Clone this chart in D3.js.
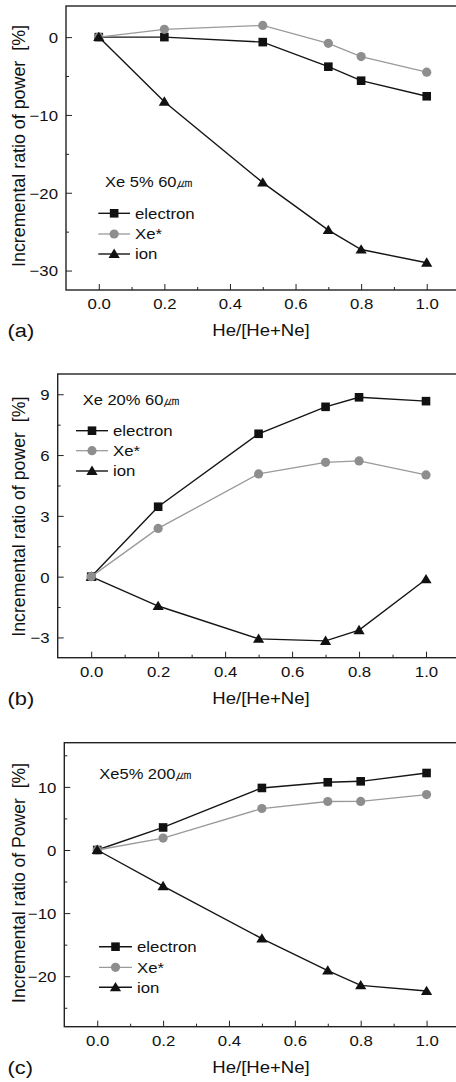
<!DOCTYPE html>
<html>
<head>
<meta charset="utf-8">
<script src="https://cdn.jsdelivr.net/npm/d3@7"></script>
<style>
  body { margin: 0; background: #fff; }
  svg { display: block; }
  text { font-family: "Liberation Sans", Arial, Helvetica, sans-serif; fill: #111; }
</style>
</head>
<body>
<svg id="chart" width="456" height="1082"></svg>
<script>
// Shared x values: helium fraction in the He/Ne buffer gas
const heFraction   = [0.0, 0.2, 0.5, 0.7, 0.8, 1.0];
const xTickValues  = [0.0, 0.2, 0.4, 0.6, 0.8, 1.0];
const xTickLabels  = ["0.0", "0.2", "0.4", "0.6", "0.8", "1.0"];
const xMinorTicks  = [0.1, 0.3, 0.5, 0.7, 0.9];
const seriesNames  = ["electron", "Xe*", "ion"];
const xAxisTitle   = "He/[He+Ne]";

// (a) Xe 5%, 60 um gap
const titleA    = "Xe 5% 60\u339B";
const electronA = [0, 0, -0.64, -3.8, -5.6, -7.6];
const xeStarA   = [0, 1.0, 1.5, -0.8, -2.5, -4.5];
const ionA      = [0, -8.3, -18.7, -24.8, -27.3, -29.0];
const yTicksA   = [-30, -20, -10, 0];
const yMinorA   = [-25, -15, -5];
const yTitleA   = "Incremental ratio of power  [%]";

// (b) Xe 20%, 60 um gap
const titleB    = "Xe 20% 60\u339B";
const electronB = [0, 3.45, 7.05, 8.38, 8.85, 8.66];
const xeStarB   = [0, 2.38, 5.07, 5.64, 5.71, 5.02];
const ionB      = [0, -1.45, -3.07, -3.17, -2.64, -0.13];
const yTicksB   = [-3, 0, 3, 6, 9];
const yMinorB   = [-1.5, 1.5, 4.5, 7.5];
const yTitleB   = "Incremental ratio of power  [%]";

// (c) Xe 5%, 200 um gap
const titleC    = "Xe5% 200\u339B";
const electronC = [0, 3.57, 9.83, 10.73, 10.88, 12.2];
const xeStarC   = [0, 1.89, 6.57, 7.68, 7.7, 8.78];
const ionC      = [0, -5.73, -14.04, -19.1, -21.45, -22.35];
const yTicksC   = [-20, -10, 0, 10];
const yMinorC   = [-25, -15, -5, 5, 15];
const yTitleC   = "Incremental ratio of Power  [%]";

// Panel layout (positions in px) and scale domains
const panels = [
  { tag: "(a)", title: titleA, yTitle: yTitleA, series: [electronA, xeStarA, ionA],
    yTicks: yTicksA, yMinor: yMinorA, yDomain: [-32.5, 4],
    left: 66, top: 6, bottom: 290,
    titleX: 105, titleY: 186.7,
    legX0: 98.3, legX1: 130, legTextX: 135, legY: [213.3, 234, 254],
    yTitleX: 25, yTitleY: 146, yTitleLen: 242,
    order: [0, 1, 2] },
  { tag: "(b)", title: titleB, yTitle: yTitleB, series: [electronB, xeStarB, ionB],
    yTicks: yTicksB, yMinor: yMinorB, yDomain: [-4, 10],
    left: 57.7, top: 374, bottom: 657.7,
    titleX: 82.7, titleY: 405,
    legX0: 76, legX1: 108, legTextX: 113, legY: [430.7, 450.7, 471],
    yTitleX: 25, yTitleY: 516.7, yTitleLen: 240,
    order: [2, 0, 1] },
  { tag: "(c)", title: titleC, yTitle: yTitleC, series: [electronC, xeStarC, ionC],
    yTicks: yTicksC, yMinor: yMinorC, yDomain: [-28, 17],
    left: 64.3, top: 742.7, bottom: 1026.7,
    titleX: 99.3, titleY: 779,
    legX0: 99, legX1: 132, legTextX: 137, legY: [946.7, 967.3, 987.3],
    yTitleX: 25, yTitleY: 883, yTitleLen: 240,
    order: [0, 1, 2] }
];

const xDomain = [-0.1, 1.1];
const rightEdge = 459.5;

const styles = [
  { line: "#151515", width: 1.4, fill: "#111", shape: "square" },
  { line: "#9a9a9a", width: 1.3, fill: "#8e8e8e", shape: "circle" },
  { line: "#151515", width: 1.4, fill: "#111", shape: "triangle" }
];

const svg = d3.select("#chart");

// horizontally widened text, anchored at (x, y)
function wideText(g, x, y, str, size, sx, anchor) {
  return g.append("text")
    .attr("transform", `translate(${x},${y}) scale(${sx},1)`)
    .attr("text-anchor", anchor || "start")
    .style("font-size", size + "px")
    .text(str);
}

function drawMarker(g, shape, cx, cy, fill) {
  if (shape === "square") {
    g.append("rect").attr("x", cx - 4.3).attr("y", cy - 4.3)
      .attr("width", 8.6).attr("height", 8.6).attr("fill", fill);
  } else if (shape === "circle") {
    g.append("circle").attr("cx", cx).attr("cy", cy).attr("r", 4.6).attr("fill", fill);
  } else {
    g.append("path")
      .attr("d", `M${cx},${cy - 5.4}L${cx + 5.6},${cy + 4}L${cx - 5.6},${cy + 4}Z`)
      .attr("fill", fill);
  }
}

panels.forEach(p => {
  const g = svg.append("g");
  const x = d3.scaleLinear().domain(xDomain).range([p.left, rightEdge]);
  const y = d3.scaleLinear().domain(p.yDomain).range([p.bottom, p.top]);

  // major & minor ticks on the bottom axis (pointing inward)
  const xAxisG = g.append("g").attr("transform", `translate(0,${p.bottom})`)
    .call(d3.axisBottom(x).tickValues(xTickValues)
      .tickFormat((d, i) => xTickLabels[i]).tickSizeInner(-6).tickSizeOuter(0));
  xAxisG.select(".domain").remove();
  xAxisG.selectAll("line").attr("stroke", "#222");
  xAxisG.selectAll("text")
    .attr("y", 19.3).attr("dy", null)
    .attr("transform", "scale(1.12,1)")
    .style("font-size", "15px").attr("fill", "#111");

  const xMinorG = g.append("g").attr("transform", `translate(0,${p.bottom})`)
    .call(d3.axisBottom(x).tickValues(xMinorTicks).tickFormat("").tickSizeInner(-3).tickSizeOuter(0));
  xMinorG.select(".domain").remove();
  xMinorG.selectAll("line").attr("stroke", "#222");

  // major & minor ticks on the left axis
  const yAxisG = g.append("g").attr("transform", `translate(${p.left},0)`)
    .call(d3.axisLeft(y).tickValues(p.yTicks).tickFormat(d3.format("d"))
      .tickSizeInner(-6).tickSizeOuter(0));
  yAxisG.select(".domain").remove();
  yAxisG.selectAll("line").attr("stroke", "#222");
  yAxisG.selectAll("text")
    .attr("x", -8 / 1.12).attr("dy", "0.36em")
    .attr("transform", "scale(1.12,1)")
    .style("font-size", "15px").attr("fill", "#111");

  const yMinorG = g.append("g").attr("transform", `translate(${p.left},0)`)
    .call(d3.axisLeft(y).tickValues(p.yMinor).tickFormat("").tickSizeInner(-3).tickSizeOuter(0));
  yMinorG.select(".domain").remove();
  yMinorG.selectAll("line").attr("stroke", "#222");

  // plot frame
  g.append("rect")
    .attr("x", p.left).attr("y", p.top)
    .attr("width", rightEdge - p.left).attr("height", p.bottom - p.top)
    .attr("fill", "none").attr("stroke", "#222").attr("stroke-width", 1.4);

  // data lines and markers
  const line = d3.line().x(d => x(d[0])).y(d => y(d[1]));
  p.order.forEach(si => {
    const st = styles[si];
    const pts = heFraction.map((f, i) => [f, p.series[si][i]]);
    g.append("path").attr("d", line(pts)).attr("fill", "none")
      .attr("stroke", st.line).attr("stroke-width", st.width);
    pts.forEach(d => drawMarker(g, st.shape, x(d[0]), y(d[1]), st.fill));
  });

  // panel title
  wideText(g, p.titleX, p.titleY, p.title, 15, 1.1);

  // legend
  seriesNames.forEach((name, i) => {
    const st = styles[i];
    const ly = p.legY[i];
    g.append("line").attr("x1", p.legX0).attr("x2", p.legX1)
      .attr("y1", ly).attr("y2", ly)
      .attr("stroke", st.line).attr("stroke-width", st.width);
    drawMarker(g, st.shape, (p.legX0 + p.legX1) / 2, ly, st.fill);
    wideText(g, p.legTextX, ly + 5.4, name, 15, 1.12);
  });

  // y-axis title
  g.append("text")
    .attr("transform", `translate(${p.yTitleX},${p.yTitleY}) rotate(-90)`)
    .attr("text-anchor", "middle")
    .attr("textLength", p.yTitleLen).attr("lengthAdjust", "spacingAndGlyphs")
    .style("font-size", "18px").style("white-space", "pre")
    .text(p.yTitle);

  // x-axis title and panel tag
  wideText(g, 261, p.bottom + 46, xAxisTitle, 16, 1.16, "middle");
  wideText(g, 7.5, p.bottom + 47, p.tag, 19, 1.15);
});
</script>
</body>
</html>
